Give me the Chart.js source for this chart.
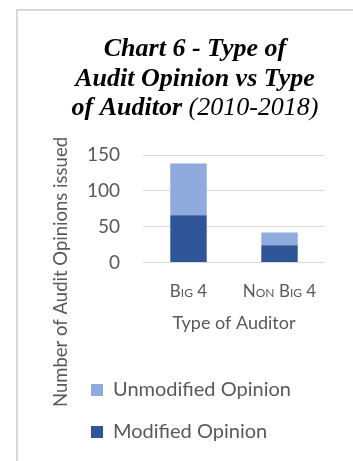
<!DOCTYPE html>
<html>
<head>
<meta charset="utf-8">
<script src="https://cdn.jsdelivr.net/npm/chart.js@4"></script>
<style>
  html, body { margin: 0; padding: 0; background: #fff; }
  #wrap { position: relative; width: 353px; height: 461px; overflow: hidden; }
  #frame { position: absolute; left: 16px; top: 9px; width: 400px; height: 500px;
           border-top: 2px solid #d9d9d9; border-left: 2px solid #d9d9d9; box-sizing: border-box; }
  canvas { position: absolute; left: 0; top: 0; }
</style>
</head>
<body>
<div id="wrap">
  <div id="frame"></div>
  <canvas id="c" width="353" height="461"></canvas>
</div>
<script>
const categories = ['Big 4', 'Non Big 4'];
const modifiedOpinion = [66, 24];
const unmodifiedOpinion = [72, 18];
const yTickValues = [0, 50, 100, 150];
const titleLines = [
  [{ text: 'Chart 6 - Type of', bold: true }],
  [{ text: 'Audit Opinion vs Type', bold: true }],
  [{ text: 'of Auditor ', bold: true }, { text: '(2010-2018)', bold: false }]
];
const yAxisTitle = 'Number of Audit Opinions issued';
const xAxisTitle = 'Type of Auditor';

const GREY = '#595959';
const FONT = "Lato, 'Open Sans', sans-serif";

const titlePlugin = {
  id: 'mixedTitle',
  afterDraw(chart) {
    const ctx = chart.ctx;
    ctx.save();
    ctx.fillStyle = '#000';
    ctx.textBaseline = 'alphabetic';
    ctx.textAlign = 'left';
    const cx = 195;
    const baselines = [56, 86, 115];
    titleLines.forEach((parts, i) => {
      let total = 0;
      const widths = parts.map(p => {
        ctx.font = (p.bold ? 'italic bold ' : 'italic ') + "26px 'Liberation Serif', 'Times New Roman', serif";
        const w = ctx.measureText(p.text).width;
        total += w;
        return w;
      });
      let x = cx - total / 2;
      parts.forEach((p, j) => {
        ctx.font = (p.bold ? 'italic bold ' : 'italic ') + "26px 'Liberation Serif', 'Times New Roman', serif";
        ctx.fillText(p.text, x, baselines[i]);
        x += widths[j];
      });
    });
    ctx.restore();
  }
};

const layoutTweaks = {
  id: 'layoutTweaks',
  afterLayout(chart) {
    if (chart.legend) chart.legend.left = 69;
    const y = chart.scales.y;
    y.top = 137;
    y.bottom = 407;
  }
};

new Chart(document.getElementById('c'), {
  type: 'bar',
  data: {
    labels: categories,
    datasets: [
      { label: 'Modified Opinion', data: modifiedOpinion, backgroundColor: '#2F5597',
        categoryPercentage: 0.8, barPercentage: 0.5 },
      { label: 'Unmodified Opinion', data: unmodifiedOpinion, backgroundColor: '#8FAADC',
        categoryPercentage: 0.8, barPercentage: 0.5 }
    ]
  },
  options: {
    responsive: false,
    devicePixelRatio: 1,
    animation: false,
    layout: { padding: { top: 155, left: 0, right: 28, bottom: 9 } },
    plugins: {
      title: { display: false },
      tooltip: { enabled: false },
      legend: {
        display: true,
        position: 'bottom',
        align: 'start',
        reverse: true,
        labels: {
          boxWidth: 12, boxHeight: 12, padding: 22,
          color: GREY,
          font: { family: FONT, size: 20 }
        }
      }
    },
    scales: {
      x: {
        stacked: true,
        grid: { display: false, drawTicks: false },
        border: { display: false },
        ticks: {
          color: GREY, padding: 19,
          font: { family: FONT, size: 17, weight: 'small-caps' }
        },
        title: {
          display: true, text: xAxisTitle, color: GREY,
          font: { family: FONT, size: 18 },
          padding: { top: 0, bottom: 24 }
        },
        afterFit(scale) { scale.height = 95.5; }
      },
      y: {
        stacked: true,
        min: 0, max: 150,
        afterBuildTicks(scale) { scale.ticks = yTickValues.map(v => ({ value: v })); },
        grid: { color: '#d9d9d9', lineWidth: 1, drawTicks: false },
        border: { display: false },
        ticks: {
          color: GREY, padding: 23,
          font: { family: FONT, size: 19 }
        },
        title: {
          display: true, text: yAxisTitle, color: GREY,
          font: { family: FONT, size: 18.5 },
          padding: { top: 50, bottom: 0 }
        },
        afterFit(scale) { scale.width = 143; }
      }
    }
  },
  plugins: [titlePlugin, layoutTweaks]
});
</script>
</body>
</html>
